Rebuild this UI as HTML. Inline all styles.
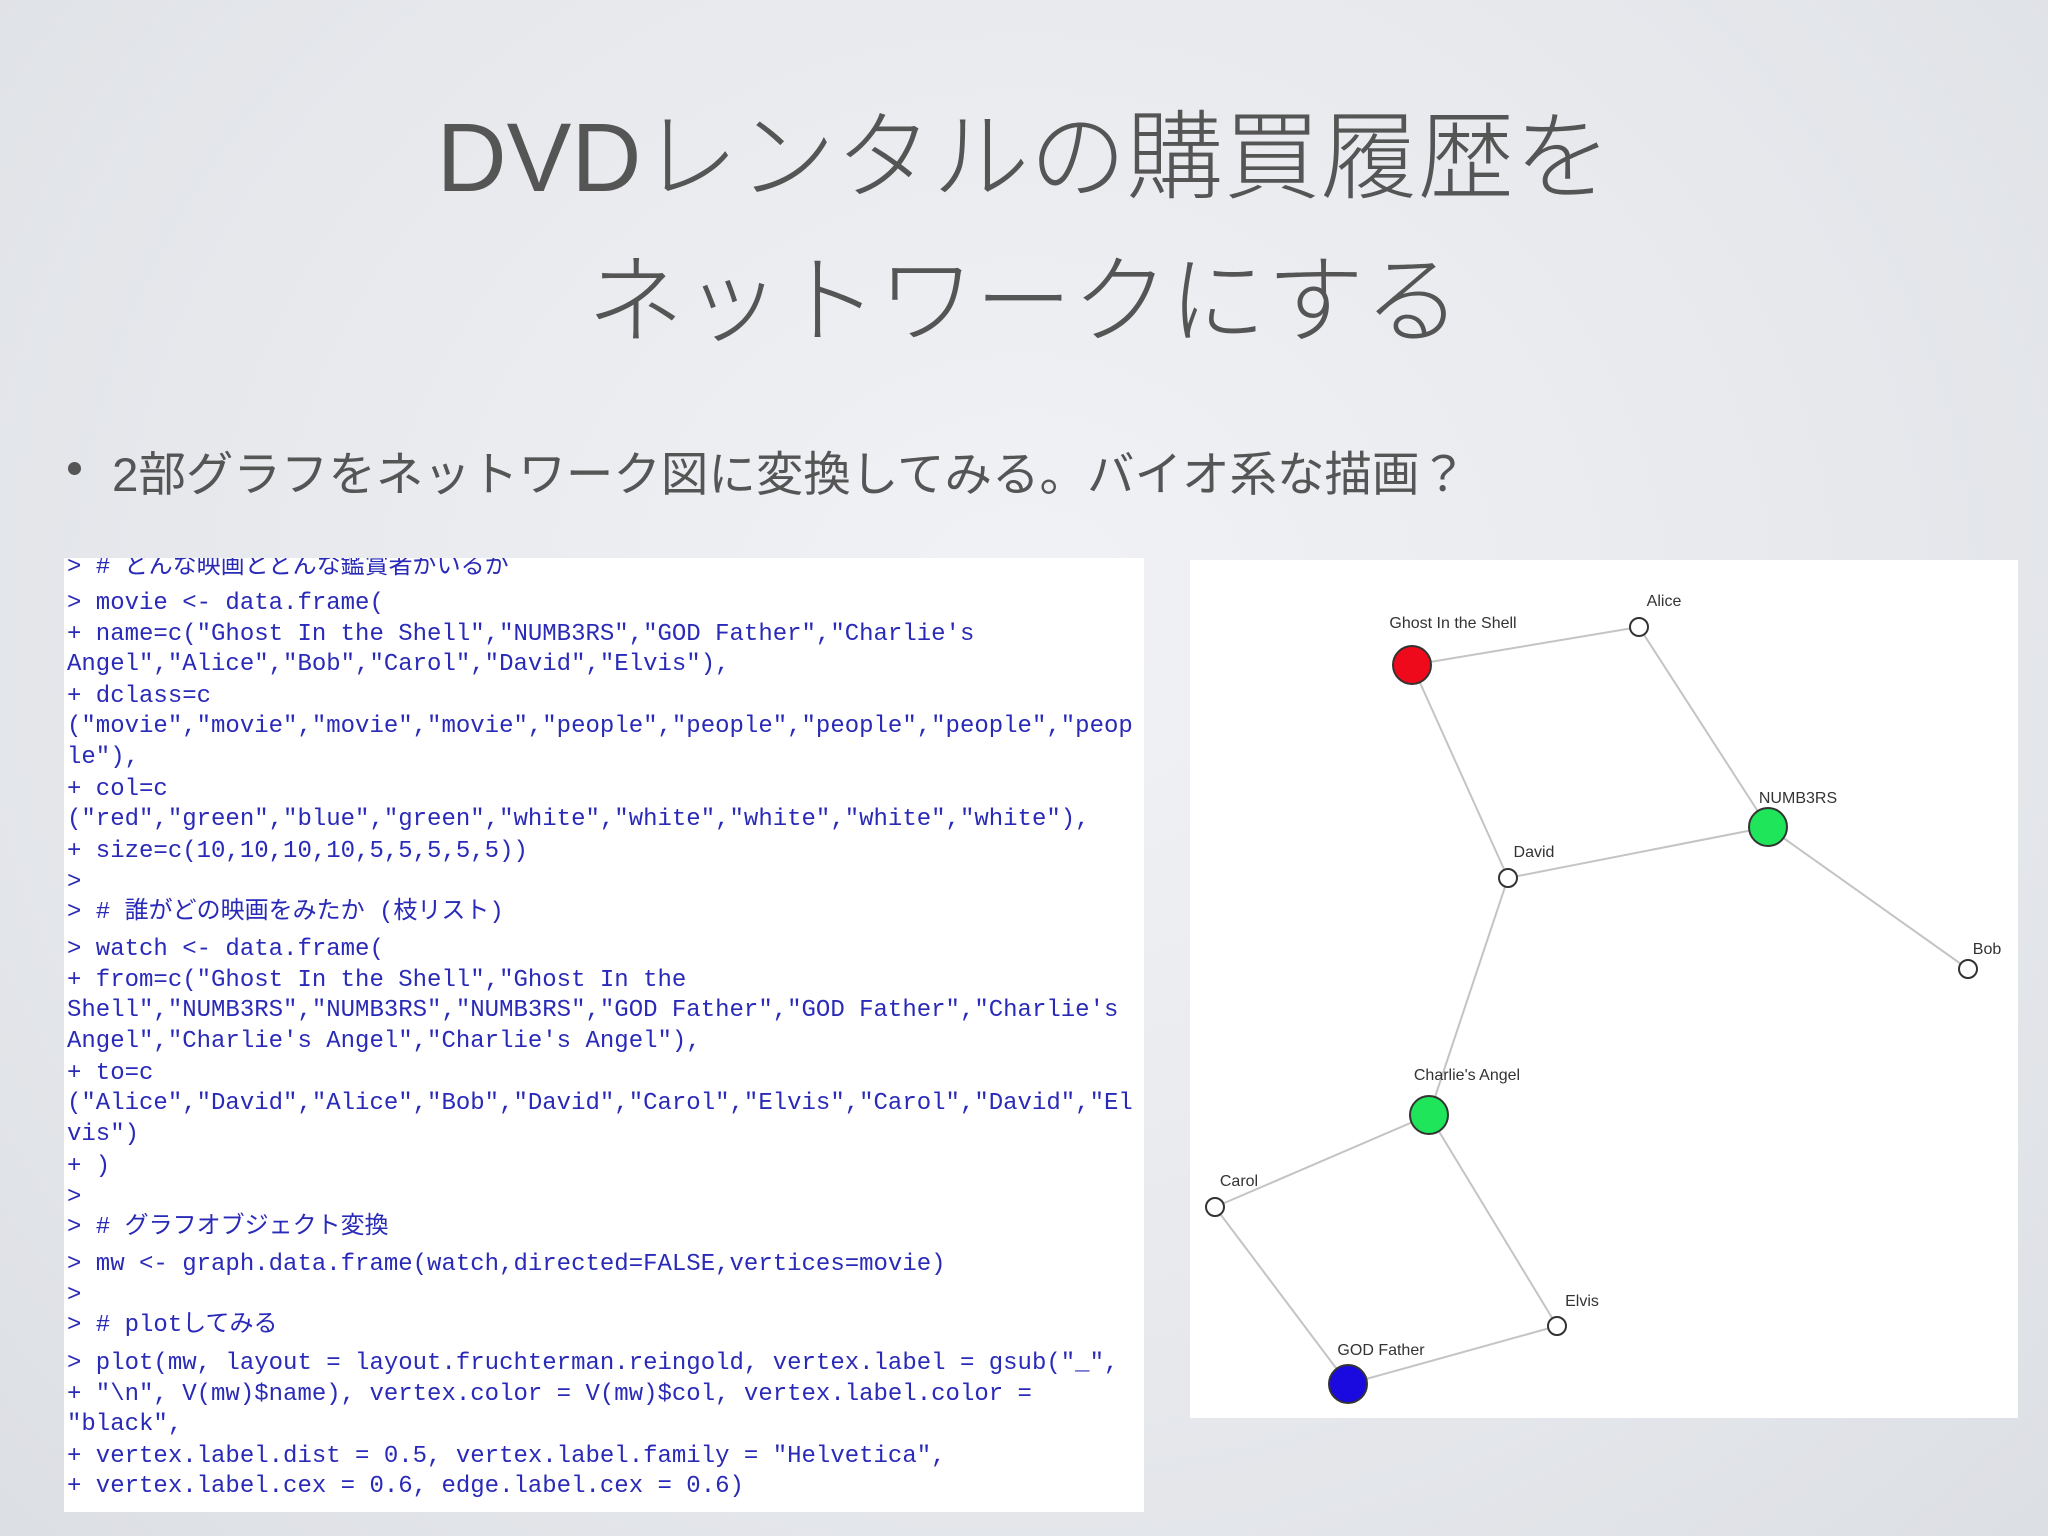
<!DOCTYPE html>
<html><head><meta charset="utf-8"><style>
body{margin:0;width:2048px;height:1536px;overflow:hidden;background:radial-gradient(ellipse at 50% 40%,#f1f2f5 0%,#e6e8ec 60%,#dcdfe4 100%);font-family:"Liberation Sans","Noto Sans CJK JP",sans-serif;position:relative}
.t{position:absolute;left:0;width:2048px;text-align:center;color:#555;font-size:97px;font-weight:300;white-space:nowrap}
.b{position:absolute;left:112px;top:436px;font-size:47.5px;color:#555;white-space:nowrap}
.dot{position:absolute;left:68px;top:462px;width:13px;height:13px;border-radius:50%;background:#555}
.code{position:absolute;left:64px;top:558px;width:1080px;height:954px;background:#fff;overflow:hidden}
.code div{position:absolute;left:3px;font-family:"Liberation Mono","Noto Sans CJK JP",monospace;font-size:24px;color:#2a2ab8;white-space:pre;line-height:30px}
.g{position:absolute;left:1190px;top:560px;width:828px;height:858px;background:#fff}
</style></head><body>
<div class="t" style="top:78px">DVDレンタルの購買履歴を</div>
<div class="t" style="top:222px">ネットワークにする</div>
<div class="dot"></div>
<div class="b">2部グラフをネットワーク図に変換してみる。バイオ系な描画？</div>
<div class="code">
<div style="top:-5px">&gt; # どんな映画とどんな鑑賞者がいるか</div>
<div style="top:31px">&gt; movie &lt;- data.frame(</div>
<div style="top:62px">+ name=c("Ghost In the Shell","NUMB3RS","GOD Father","Charlie's</div>
<div style="top:92px">Angel","Alice","Bob","Carol","David","Elvis"),</div>
<div style="top:124px">+ dclass=c</div>
<div style="top:154px">("movie","movie","movie","movie","people","people","people","people","peop</div>
<div style="top:185px">le"),</div>
<div style="top:217px">+ col=c</div>
<div style="top:247px">("red","green","blue","green","white","white","white","white","white"),</div>
<div style="top:279px">+ size=c(10,10,10,10,5,5,5,5,5))</div>
<div style="top:310px">&gt;</div>
<div style="top:340px">&gt; # 誰がどの映画をみたか (枝リスト)</div>
<div style="top:377px">&gt; watch &lt;- data.frame(</div>
<div style="top:408px">+ from=c("Ghost In the Shell","Ghost In the</div>
<div style="top:438px">Shell","NUMB3RS","NUMB3RS","NUMB3RS","GOD Father","GOD Father","Charlie's</div>
<div style="top:469px">Angel","Charlie's Angel","Charlie's Angel"),</div>
<div style="top:501px">+ to=c</div>
<div style="top:531px">("Alice","David","Alice","Bob","David","Carol","Elvis","Carol","David","El</div>
<div style="top:562px">vis")</div>
<div style="top:594px">+ )</div>
<div style="top:625px">&gt;</div>
<div style="top:655px">&gt; # グラフオブジェクト変換</div>
<div style="top:692px">&gt; mw &lt;- graph.data.frame(watch,directed=FALSE,vertices=movie)</div>
<div style="top:723px">&gt;</div>
<div style="top:753px">&gt; # plotしてみる</div>
<div style="top:791px">&gt; plot(mw, layout = layout.fruchterman.reingold, vertex.label = gsub("_",</div>
<div style="top:822px">+ "\n", V(mw)$name), vertex.color = V(mw)$col, vertex.label.color =</div>
<div style="top:852px">"black",</div>
<div style="top:884px">+ vertex.label.dist = 0.5, vertex.label.family = "Helvetica",</div>
<div style="top:914px">+ vertex.label.cex = 0.6, edge.label.cex = 0.6)</div>
</div>
<div class="g"></div>
<svg width="2048" height="1536" style="position:absolute;left:0;top:0" font-family="Liberation Sans, sans-serif" font-size="16" text-anchor="middle">
<g stroke="#c4c4c4" stroke-width="2">
<line x1="1412" y1="665" x2="1639" y2="627"/>
<line x1="1412" y1="665" x2="1508" y2="878"/>
<line x1="1639" y1="627" x2="1768" y2="827"/>
<line x1="1768" y1="827" x2="1508" y2="878"/>
<line x1="1768" y1="827" x2="1968" y2="969"/>
<line x1="1508" y1="878" x2="1429" y2="1115"/>
<line x1="1429" y1="1115" x2="1215" y2="1207"/>
<line x1="1429" y1="1115" x2="1557" y2="1326"/>
<line x1="1215" y1="1207" x2="1348" y2="1384"/>
<line x1="1557" y1="1326" x2="1348" y2="1384"/>
</g>
<g stroke="#333" stroke-width="2">
<circle cx="1412" cy="665" r="19" fill="#ee0a1a"/>
<circle cx="1768" cy="827" r="19" fill="#1ee55a"/>
<circle cx="1429" cy="1115" r="19" fill="#1ee55a"/>
<circle cx="1348" cy="1384" r="19" fill="#1a0ae0"/>
<circle cx="1639" cy="627" r="9" fill="#fff"/>
<circle cx="1508" cy="878" r="9" fill="#fff"/>
<circle cx="1968" cy="969" r="9" fill="#fff"/>
<circle cx="1215" cy="1207" r="9" fill="#fff"/>
<circle cx="1557" cy="1326" r="9" fill="#fff"/>
</g>
<g fill="#333">
<text x="1453" y="628">Ghost In the Shell</text>
<text x="1664" y="606">Alice</text>
<text x="1798" y="803">NUMB3RS</text>
<text x="1534" y="857">David</text>
<text x="1987" y="954">Bob</text>
<text x="1467" y="1080">Charlie's Angel</text>
<text x="1239" y="1186">Carol</text>
<text x="1582" y="1306">Elvis</text>
<text x="1381" y="1355">GOD Father</text>
</g>
</svg>
</body></html>
